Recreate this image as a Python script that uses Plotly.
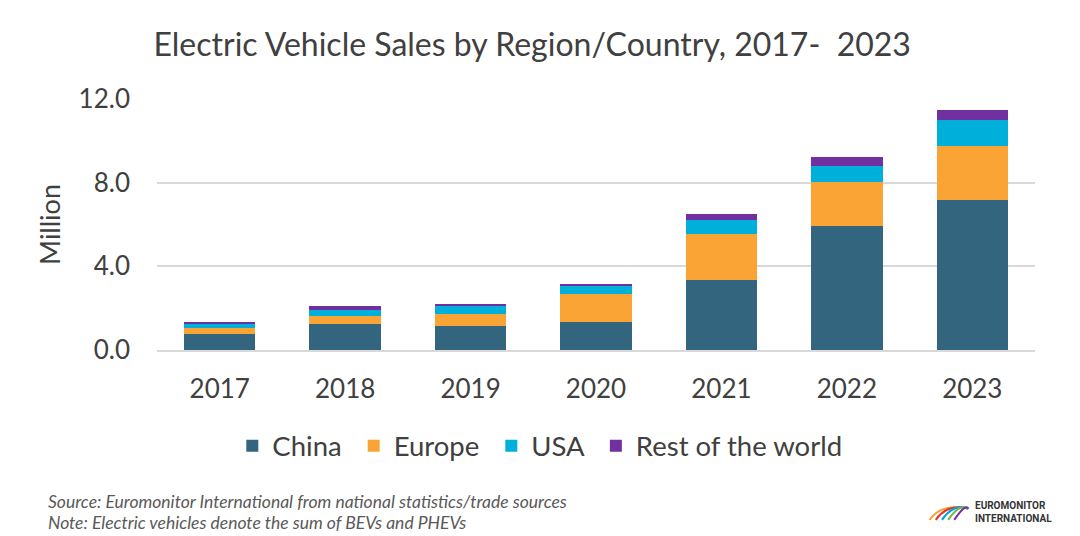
import plotly.graph_objects as go

years = ["2017", "2018", "2019", "2020", "2021", "2022", "2023"]
china = [0.78, 1.26, 1.16, 1.34, 3.35, 5.94, 7.18]
europe = [0.29, 0.37, 0.56, 1.34, 2.19, 2.11, 2.59]
usa = [0.20, 0.28, 0.38, 0.38, 0.67, 0.76, 1.22]
rest = [0.07, 0.21, 0.11, 0.11, 0.29, 0.40, 0.48]

series = [
    ("China", china, "#33657F"),
    ("Europe", europe, "#F9A435"),
    ("USA", usa, "#00B0DA"),
    ("Rest of the world", rest, "#7030A0"),
]

FONT = "Lato"
fig = go.Figure()
for name, vals, col in series:
    fig.add_trace(go.Bar(x=years, y=vals, name=name + "\u00a0",
                         marker=dict(color=col, line=dict(width=0))))

# page has an 8px body margin, so figure is 1072x528 and coordinates are offset by 8px
fig.update_layout(
    barmode="stack",
    bargap=0.43,
    width=1072, height=528,
    paper_bgcolor="white", plot_bgcolor="white",
    margin=dict(l=149, r=45, t=91, b=186),
    font=dict(family=FONT, color="#595959"),
    title=dict(text="Electric Vehicle Sales by Region/Country, 2017-  2023",
               x=0.489, xanchor="center", y=0.930, yanchor="middle",
               font=dict(family=FONT, size=32, color="#404040")),
    xaxis=dict(tickfont=dict(size=26, color="#404040"), showline=True, linecolor="#D9D9D9",
               linewidth=2, ticks="", ticklabelstandoff=15),
    yaxis=dict(range=[0, 12], tickvals=[0, 4, 8, 12], ticktext=["0.0", "4.0", "8.0", "12.0"],
               tickfont=dict(size=26, color="#404040"), gridcolor="#D9D9D9", gridwidth=2,
               zeroline=False, ticks="", ticklabelstandoff=26,
               title=dict(text="Million", font=dict(size=27, color="#404040"), standoff=10)),
    legend=dict(orientation="h", x=0.44, xanchor="center", y=-0.382, yanchor="middle",
                font=dict(size=27.5, color="#404040"), itemwidth=30, traceorder="normal"),
    showlegend=True,
)

fig.add_annotation(text="<i>Source: Euromonitor International from national statistics/trade sources</i>",
                   xref="paper", yref="paper", x=-0.1264, y=-0.602, xanchor="left", yanchor="middle",
                   showarrow=False, font=dict(family=FONT, size=17.5, color="#595959"))
fig.add_annotation(text="<i>Note: Electric vehicles denote the sum of BEVs and PHEVs</i>",
                   xref="paper", yref="paper", x=-0.1264, y=-0.689, xanchor="left", yanchor="middle",
                   showarrow=False, font=dict(family=FONT, size=17.5, color="#595959"))
fig.add_annotation(text="<b>EUROMONITOR<br>INTERNATIONAL</b>",
                   xref="paper", yref="paper", x=0.929, y=-0.645, xanchor="left", yanchor="middle",
                   align="left", showarrow=False, font=dict(family="Roboto", size=10, color="#333333"))
# small logo arcs
logo_cols = ["#F9A435", "#E4332B", "#00A3DA", "#7AB648", "#7030A0"]
for i, c in enumerate(logo_cols):
    fig.add_shape(type="path", xref="paper", yref="paper",
                  path=f"M {0.880+i*0.007} -0.677 Q {0.893+i*0.007} -0.61 {0.924} -0.632",
                  line=dict(color=c, width=2))

fig.write_html("out.html")
